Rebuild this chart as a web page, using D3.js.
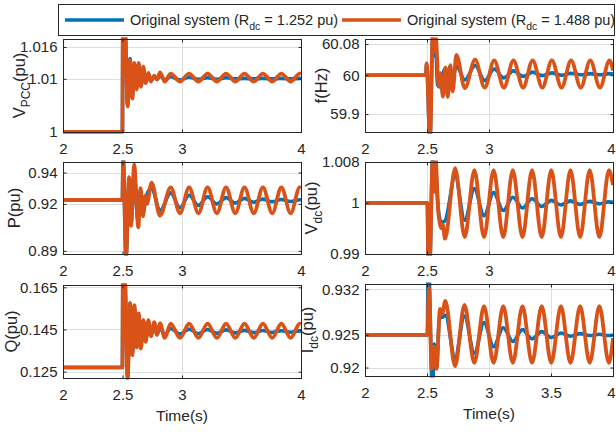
<!DOCTYPE html>
<html><head><meta charset="utf-8">
<script src="https://cdn.jsdelivr.net/npm/d3@7"></script>
<style>
body{margin:0;background:#fff}
svg{display:block}
text{font-family:"Liberation Sans",Arial,Helvetica,sans-serif;fill:#262626}
</style>
</head><body>
<svg id="c" width="616" height="432"></svg>
<script>
// ---------- data (time in s, value) ----------
const legendMain = ["Original system (R", "Original system (R"];
const legendSub = ["dc", "dc"];
const legendTail = [" = 1.252 pu)", " = 1.488 pu)"];

const vpccBlue = [[2,1],[2.499,1],[2.503,1.02],[2.52,1.02],[2.542,1.005],[2.563,1.0138],[2.583,1.0065],[2.6,1.0128],[2.619,1.0082],[2.636,1.0125],[2.655,1.0087],[2.675,1.0118],[2.695,1.0093],[2.717,1.0108],[2.739,1.0097],[2.767,1.0105],[2.79,1.0099],[2.815,1.0106],[2.855,1.0098],[2.905,1.0104],[2.983,1.0098],[3.06,1.0103],[3.138,1.0099],[3.215,1.0102],[3.293,1.0099],[3.37,1.0102],[3.448,1.01],[3.525,1.0101],[3.603,1.01],[3.68,1.0101],[3.758,1.01],[3.835,1.0101],[3.913,1.01],[3.99,1.0101],[4,1.0101]];
const vpccOrange = [[2,1],[2.499,1],[2.503,1.02],[2.522,1.02],[2.543,1.0048],[2.563,1.0135],[2.583,1.0063],[2.6,1.013],[2.619,1.008],[2.636,1.013],[2.655,1.0085],[2.675,1.0123],[2.695,1.0092],[2.717,1.0111],[2.739,1.0095],[2.767,1.0106],[2.79,1.0099],[2.815,1.0112],[2.855,1.0095],[2.905,1.011],[2.983,1.0095],[3.06,1.011],[3.138,1.0095],[3.215,1.011],[3.293,1.0095],[3.37,1.011],[3.448,1.0095],[3.525,1.011],[3.603,1.0095],[3.68,1.011],[3.758,1.0095],[3.835,1.011],[3.913,1.0095],[3.99,1.011],[4,1.0109]];

const fBlue = [[2,60],[2.49,60],[2.497,60.028],[2.524,59.835],[2.546,60.098],[2.556,60.05],[2.568,60.09],[2.585,59.975],[2.6,59.97],[2.62,59.99],[2.64,60.015],[2.66,59.96],[2.68,60.02],[2.705,59.99],[2.737,60.024],[2.805,59.988],[2.888,60.025],[2.965,59.986],[3.042,60.016],[3.12,59.993],[3.197,60.011],[3.275,59.997],[3.352,60.008],[3.43,59.999],[3.507,60.006],[3.585,60],[3.662,60.005],[3.74,60.001],[3.817,60.004],[3.895,60.001],[3.972,60.004],[4,60.003]];
const fOrange = [[2,60],[2.49,60],[2.497,60.03],[2.524,59.83],[2.546,60.1],[2.556,60.06],[2.57,60.1],[2.595,59.972],[2.608,60.005],[2.628,59.945],[2.648,60.02],[2.668,59.944],[2.688,60.026],[2.707,59.958],[2.737,60.052],[2.805,59.967],[2.888,60.04],[2.965,59.968],[3.042,60.038],[3.12,59.968],[3.197,60.038],[3.275,59.968],[3.352,60.038],[3.43,59.968],[3.507,60.038],[3.585,59.968],[3.662,60.038],[3.74,59.968],[3.817,60.038],[3.895,59.968],[3.972,60.038],[4,60.012]];

const pBlue = [[2,0.9225],[2.499,0.9225],[2.505,0.95],[2.53,0.887],[2.556,0.936],[2.574,0.909],[2.598,0.94],[2.628,0.91],[2.65,0.929],[2.672,0.914],[2.7,0.925],[2.745,0.93],[2.815,0.9155],[2.905,0.927],[2.983,0.9175],[3.06,0.9255],[3.138,0.919],[3.215,0.9245],[3.293,0.92],[3.37,0.924],[3.448,0.9205],[3.525,0.9235],[3.603,0.921],[3.68,0.923],[3.758,0.9213],[3.835,0.9228],[3.913,0.9215],[3.99,0.9226],[4,0.9225]];
const pOrange = [[2,0.9225],[2.499,0.9225],[2.505,0.95],[2.53,0.886],[2.555,0.937],[2.572,0.906],[2.598,0.945],[2.633,0.905],[2.652,0.93],[2.672,0.912],[2.69,0.925],[2.705,0.92],[2.745,0.9335],[2.815,0.9125],[2.905,0.9305],[2.983,0.914],[3.06,0.9305],[3.138,0.914],[3.215,0.9305],[3.293,0.914],[3.37,0.9305],[3.448,0.914],[3.525,0.9305],[3.603,0.914],[3.68,0.9305],[3.758,0.914],[3.835,0.9305],[3.913,0.914],[3.99,0.9305],[4,0.93]];

const vdcBlue = [[2,1],[2.503,1],[2.51,0.988],[2.522,0.988],[2.546,1.009],[2.552,1.004],[2.562,1.0022],[2.57,1.006],[2.59,0.999],[2.615,0.9962],[2.645,0.9965],[2.727,1.0052],[2.804,0.9966],[2.882,1.0028],[2.96,0.9975],[3.037,1.002],[3.115,0.9985],[3.192,1.0011],[3.27,0.999],[3.347,1.0008],[3.425,0.9993],[3.502,1.0005],[3.58,0.9996],[3.657,1.0004],[3.735,0.9997],[3.812,1.0003],[3.89,0.9998],[3.967,1.0002],[4,1.0001]];
const vdcOrange = [[2,1],[2.503,1],[2.51,0.9885],[2.522,0.9885],[2.546,1.009],[2.556,1.0022],[2.568,1.009],[2.592,0.998],[2.618,0.995],[2.627,0.9958],[2.645,0.993],[2.727,1.0068],[2.804,0.9933],[2.882,1.0064],[2.96,0.9933],[3.037,1.0064],[3.115,0.9933],[3.192,1.0064],[3.27,0.9933],[3.347,1.0064],[3.425,0.9933],[3.502,1.0064],[3.58,0.9933],[3.657,1.0064],[3.735,0.9933],[3.812,1.0064],[3.89,0.9933],[3.967,1.0064],[4,1.0035]];

const qBlue = [[2,0.127],[2.499,0.127],[2.503,0.168],[2.52,0.168],[2.543,0.122],[2.563,0.1575],[2.583,0.134],[2.6,0.155],[2.619,0.1375],[2.636,0.152],[2.655,0.138],[2.675,0.149],[2.695,0.14],[2.717,0.1475],[2.739,0.1425],[2.767,0.1465],[2.79,0.1425],[2.815,0.146],[2.855,0.1425],[2.905,0.1455],[2.983,0.1428],[3.06,0.1452],[3.138,0.143],[3.215,0.145],[3.293,0.1432],[3.37,0.1448],[3.448,0.1434],[3.525,0.1446],[3.603,0.1435],[3.68,0.1445],[3.758,0.1436],[3.835,0.1444],[3.913,0.1437],[3.99,0.1443],[4,0.1443]];
const qOrange = [[2,0.127],[2.499,0.127],[2.503,0.168],[2.52,0.168],[2.543,0.1215],[2.563,0.1575],[2.583,0.1328],[2.6,0.1566],[2.619,0.1365],[2.636,0.1526],[2.655,0.136],[2.675,0.1495],[2.695,0.1391],[2.717,0.1494],[2.739,0.1418],[2.767,0.1485],[2.79,0.1425],[2.815,0.148],[2.855,0.141],[2.905,0.1478],[2.983,0.141],[3.06,0.1478],[3.138,0.141],[3.215,0.1478],[3.293,0.141],[3.37,0.1478],[3.448,0.141],[3.525,0.1478],[3.603,0.141],[3.68,0.1478],[3.758,0.141],[3.835,0.1478],[3.913,0.141],[3.99,0.1478],[4,0.1475]];

const idcBlue = [[2,0.925],[2.503,0.925],[2.508,0.934],[2.516,0.934],[2.54,0.918],[2.548,0.918],[2.558,0.9236],[2.578,0.92],[2.6,0.9275],[2.632,0.9278],[2.648,0.928],[2.726,0.9215],[2.802,0.9279],[2.882,0.9222],[2.96,0.9269],[3.037,0.9232],[3.115,0.9261],[3.192,0.924],[3.27,0.9258],[3.347,0.9244],[3.425,0.9255],[3.502,0.9246],[3.58,0.9253],[3.657,0.9248],[3.735,0.9252],[3.812,0.9249],[3.89,0.9251],[3.967,0.9249],[4,0.925]];
const idcOrange = [[2,0.925],[2.503,0.925],[2.516,0.9322],[2.538,0.9198],[2.556,0.9232],[2.576,0.9198],[2.605,0.929],[2.622,0.9282],[2.648,0.9302],[2.726,0.9202],[2.802,0.9296],[2.882,0.9207],[2.96,0.9294],[3.037,0.9207],[3.115,0.9294],[3.192,0.9207],[3.27,0.9294],[3.347,0.9207],[3.425,0.9294],[3.502,0.9207],[3.58,0.9294],[3.657,0.9207],[3.735,0.9294],[3.812,0.9207],[3.89,0.9294],[3.967,0.9207],[4,0.9245]];

const xTicks = [2, 2.5, 3, 4];
const xTicksBottomRight = [2, 2.5, 3, 3.5, 4];
const xTickLabels = ["2", "2.5", "3", "4"];
const xTickLabelsBottomRight = ["2", "2.5", "3", "3.5", "4"];

const vpccTicks = [1, 1.01, 1.016], vpccTickLabels = ["1", "1.01", "1.016"];
const fTicks = [59.9, 60, 60.08], fTickLabels = ["59.9", "60", "60.08"];
const pTicks = [0.89, 0.92, 0.94], pTickLabels = ["0.89", "0.92", "0.94"];
const vdcTicks = [0.99, 1, 1.008], vdcTickLabels = ["0.99", "1", "1.008"];
const qTicks = [0.125, 0.145, 0.165], qTickLabels = ["0.125", "0.145", "0.165"];
const idcTicks = [0.92, 0.925, 0.932], idcTickLabels = ["0.92", "0.925", "0.932"];

// ---------- layout ----------
const W = 616;
const BLUE = "#0072BD", ORANGE = "#D95319", AX = "#262626", GRID = "#dfdfdf";
const panels = [
  {blue: vpccBlue, orange: vpccOrange, ydom:[1,1.0175], yt:vpccTicks, ytl:vpccTickLabels, xt:xTicks, xtl:xTickLabels,
   box:[63,39,301,132], lab:["V","PCC","(pu)"], labX:25, time:false},
  {blue: fBlue, orange: fOrange, ydom:[59.854,60.093], yt:fTicks, ytl:fTickLabels, xt:xTicks, xtl:xTickLabels,
   box:[365,39,613,132], lab:["f(Hz)","",""], labX:327, time:false},
  {blue: pBlue, orange: pOrange, ydom:[0.888,0.9467], yt:pTicks, ytl:pTickLabels, xt:xTicks, xtl:xTickLabels,
   box:[63,162,301,254], lab:["P(pu)","",""], labX:20, time:false},
  {blue: vdcBlue, orange: vdcOrange, ydom:[0.99,1.008], yt:vdcTicks, ytl:vdcTickLabels, xt:xTicks, xtl:xTickLabels,
   box:[365,162,613,254], lab:["V","dc","(pu)"], labX:317, time:false},
  {blue: qBlue, orange: qOrange, ydom:[0.122,0.1661], yt:qTicks, ytl:qTickLabels, xt:xTicks, xtl:xTickLabels,
   box:[63,285,301,378], lab:["Q(pu)","",""], labX:17, time:true},
  {blue: idcBlue, orange: idcOrange, ydom:[0.9187,0.9328], yt:idcTicks, ytl:idcTickLabels, xt:xTicksBottomRight, xtl:xTickLabelsBottomRight,
   box:[365,284,613,376], lab:["I","dc","(pu)"], labX:313, time:true}
];

const svg = d3.select("#c");
const defs = svg.append("defs");

panels.forEach((p, i) => {
  const [x0, y0, x1, y1] = p.box;
  const x = d3.scaleLinear().domain([2, 4]).range([x0, x1]);
  const y = d3.scaleLinear().domain(p.ydom).range([y1, y0]);
  const g = svg.append("g");

  // grid
  g.append("g").selectAll("line").data(p.xt).join("line")
    .attr("x1", d => Math.round(x(d)) + 0.5).attr("x2", d => Math.round(x(d)) + 0.5)
    .attr("y1", y0).attr("y2", y1).attr("stroke", GRID).attr("stroke-width", 1);
  g.append("g").selectAll("line").data(p.yt).join("line")
    .attr("y1", d => Math.round(y(d)) + 0.5).attr("y2", d => Math.round(y(d)) + 0.5)
    .attr("x1", x0).attr("x2", x1).attr("stroke", GRID).attr("stroke-width", 1);

  // clip
  defs.append("clipPath").attr("id", "clip" + i).append("rect")
    .attr("x", x0 - 1).attr("y", y0 - 1.5).attr("width", x1 - x0 + 2).attr("height", y1 - y0 + 3);

  const line = d3.line().x(d => x(d[0])).y(d => y(d[1])).curve(d3.curveMonotoneX);
  const lg = g.append("g").attr("clip-path", `url(#clip${i})`);
  lg.append("path").datum(p.blue).attr("d", line).attr("fill", "none")
    .attr("stroke", BLUE).attr("stroke-width", 3.6).attr("stroke-linejoin", "round");
  lg.append("path").datum(p.orange).attr("d", line).attr("fill", "none")
    .attr("stroke", ORANGE).attr("stroke-width", 3.8).attr("stroke-linejoin", "round");

  // axes
  const fmtX = d => p.xtl[p.xt.indexOf(d)];
  const fmtY = d => p.ytl[p.yt.indexOf(d)];
  const axB = g.append("g").attr("transform", `translate(0,${y1 + 0.5})`)
    .call(d3.axisBottom(x).tickValues(p.xt).tickFormat(fmtX).tickSizeInner(-3).tickSizeOuter(0).tickPadding(11));
  const axT = g.append("g").attr("transform", `translate(0,${y0 + 0.5})`)
    .call(d3.axisTop(x).tickValues(p.xt).tickFormat("").tickSizeInner(-3).tickSizeOuter(0));
  const axL = g.append("g").attr("transform", `translate(${x0 + 0.5},0)`)
    .call(d3.axisLeft(y).tickValues(p.yt).tickFormat(fmtY).tickSizeInner(-3).tickSizeOuter(0).tickPadding(6));
  const axR = g.append("g").attr("transform", `translate(${x1 + 0.5},0)`)
    .call(d3.axisRight(y).tickValues(p.yt).tickFormat("").tickSizeInner(-3).tickSizeOuter(0));
  [axB, axT, axL, axR].forEach(a => {
    a.select(".domain").remove();
    a.selectAll("line").attr("stroke", AX);
    a.selectAll("text").attr("fill", AX).style("font-size", "15px").attr("font-family", null);
  });
  // keep the last x tick label inside the picture
  axB.selectAll("text").each(function(d) {
    const bb = this.getBBox();
    const right = x(d) + bb.x + bb.width;
    if (right > W - 1) d3.select(this).attr("dx", (W - 1 - right).toFixed(1));
  });

  g.append("rect").attr("x", x0 + 0.5).attr("y", y0 + 0.5).attr("width", x1 - x0).attr("height", y1 - y0)
    .attr("fill", "none").attr("stroke", AX).attr("stroke-width", 1);

  // y label
  const cy = (y0 + y1) / 2;
  const t = g.append("text").attr("transform", `translate(${p.labX},${cy}) rotate(-90)`)
    .attr("text-anchor", "middle").style("font-size", "16.5px");
  t.append("tspan").text(p.lab[0]);
  if (p.lab[1]) {
    t.append("tspan").attr("dy", 4.5).style("font-size", "12px").text(p.lab[1]);
    t.append("tspan").attr("dy", -4.5).text(p.lab[2]);
  }

  if (p.time) {
    g.append("text").attr("x", (x0 + x1) / 2).attr("y", y1 + 43).attr("text-anchor", "middle")
      .style("font-size", "15.5px").text("Time(s)");
  }
});

// legend
const leg = svg.append("g");
leg.append("rect").attr("x", 58.5).attr("y", 4.5).attr("width", 556).attr("height", 31)
  .attr("fill", "#fff").attr("stroke", AX).attr("stroke-width", 1);
const legItems = [{c: BLUE, lx: 65, tx: 130}, {c: ORANGE, lx: 342, tx: 407}];
legItems.forEach((it, k) => {
  leg.append("line").attr("x1", it.lx).attr("x2", it.lx + 59).attr("y1", 20).attr("y2", 20)
    .attr("stroke", it.c).attr("stroke-width", 3.6);
  const tx = leg.append("text").attr("x", it.tx).attr("y", 24.5).style("font-size", "14.5px");
  tx.append("tspan").text(legendMain[k]);
  tx.append("tspan").attr("dy", 5).style("font-size", "10.5px").text(legendSub[k]);
  tx.append("tspan").attr("dy", -5).text(legendTail[k]);
});
</script>
</body></html>
